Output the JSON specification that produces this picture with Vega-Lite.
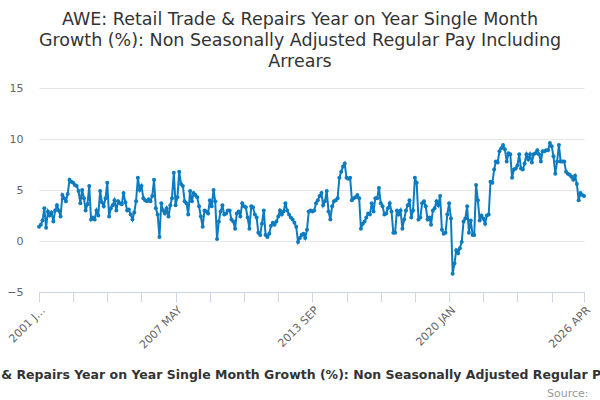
{
"$schema":"https://vega.github.io/schema/vega-lite/v6.json",
"width":545,"height":204,"autosize":"none",
"padding":{"left":39,"top":88,"right":16,"bottom":108},
"background":"white",
"config":{"view":{"stroke":null},"font":"DejaVu Sans"},
"title":{"text":["AWE: Retail Trade & Repairs Year on Year Single Month","Growth (%): Non Seasonally Adjusted Regular Pay Including","Arrears"],"fontSize":17.5,"fontWeight":"normal","color":"#333333","anchor":"middle","frame":"group","dx":-11.5,"offset":12,"lineHeight":21,"font":"DejaVu Sans"},
"data":{"values":[
{"d":"2001-01","v":1.4},{"d":"2001-02","v":1.6},{"d":"2001-03","v":2.0},{"d":"2001-04","v":3.2},{"d":"2001-05","v":1.3},{"d":"2001-06","v":2.9},{"d":"2001-07","v":2.5},{"d":"2001-08","v":2.8},{"d":"2001-09","v":1.9},{"d":"2001-10","v":3.0},{"d":"2001-11","v":3.5},{"d":"2001-12","v":3.0},
{"d":"2002-01","v":2.4},{"d":"2002-02","v":4.5},{"d":"2002-03","v":4.2},{"d":"2002-04","v":3.9},{"d":"2002-05","v":4.6},{"d":"2002-06","v":6.0},{"d":"2002-07","v":5.8},{"d":"2002-08","v":5.7},{"d":"2002-09","v":5.5},{"d":"2002-10","v":5.4},{"d":"2002-11","v":4.9},{"d":"2002-12","v":3.7},
{"d":"2003-01","v":5.0},{"d":"2003-02","v":4.2},{"d":"2003-03","v":3.0},{"d":"2003-04","v":3.6},{"d":"2003-05","v":5.4},{"d":"2003-06","v":2.1},{"d":"2003-07","v":2.3},{"d":"2003-08","v":2.1},{"d":"2003-09","v":3.0},{"d":"2003-10","v":2.5},{"d":"2003-11","v":4.9},{"d":"2003-12","v":3.8},
{"d":"2004-01","v":3.4},{"d":"2004-02","v":4.2},{"d":"2004-03","v":5.7},{"d":"2004-04","v":2.4},{"d":"2004-05","v":3.2},{"d":"2004-06","v":3.5},{"d":"2004-07","v":4.0},{"d":"2004-08","v":3.0},{"d":"2004-09","v":3.9},{"d":"2004-10","v":3.7},{"d":"2004-11","v":3.6},{"d":"2004-12","v":4.7},
{"d":"2005-01","v":3.8},{"d":"2005-02","v":3.0},{"d":"2005-03","v":3.1},{"d":"2005-04","v":2.6},{"d":"2005-05","v":2.1},{"d":"2005-06","v":2.8},{"d":"2005-07","v":3.9},{"d":"2005-08","v":6.2},{"d":"2005-09","v":5.0},{"d":"2005-10","v":5.4},{"d":"2005-11","v":4.2},{"d":"2005-12","v":4.0},
{"d":"2006-01","v":3.9},{"d":"2006-02","v":4.1},{"d":"2006-03","v":3.9},{"d":"2006-04","v":4.4},{"d":"2006-05","v":6.0},{"d":"2006-06","v":3.2},{"d":"2006-07","v":2.6},{"d":"2006-08","v":0.4},{"d":"2006-09","v":3.7},{"d":"2006-10","v":3.0},{"d":"2006-11","v":2.7},{"d":"2006-12","v":3.2},
{"d":"2007-01","v":2.4},{"d":"2007-02","v":3.5},{"d":"2007-03","v":4.2},{"d":"2007-04","v":6.7},{"d":"2007-05","v":3.5},{"d":"2007-06","v":4.3},{"d":"2007-07","v":6.8},{"d":"2007-08","v":5.6},{"d":"2007-09","v":5.4},{"d":"2007-10","v":3.9},{"d":"2007-11","v":3.7},{"d":"2007-12","v":2.6},
{"d":"2008-01","v":4.9},{"d":"2008-02","v":3.9},{"d":"2008-03","v":4.7},{"d":"2008-04","v":4.5},{"d":"2008-05","v":4.3},{"d":"2008-06","v":3.4},{"d":"2008-07","v":2.4},{"d":"2008-08","v":1.4},{"d":"2008-09","v":3.0},{"d":"2008-10","v":2.9},{"d":"2008-11","v":2.7},{"d":"2008-12","v":4.0},
{"d":"2009-01","v":3.4},{"d":"2009-02","v":5.0},{"d":"2009-03","v":3.9},{"d":"2009-04","v":0.2},{"d":"2009-05","v":1.9},{"d":"2009-06","v":2.9},{"d":"2009-07","v":3.5},{"d":"2009-08","v":2.6},{"d":"2009-09","v":2.7},{"d":"2009-10","v":3.0},{"d":"2009-11","v":3.0},{"d":"2009-12","v":2.1},
{"d":"2010-01","v":1.9},{"d":"2010-02","v":1.2},{"d":"2010-03","v":2.7},{"d":"2010-04","v":2.9},{"d":"2010-05","v":2.4},{"d":"2010-06","v":3.7},{"d":"2010-07","v":3.4},{"d":"2010-08","v":3.3},{"d":"2010-09","v":2.3},{"d":"2010-10","v":1.2},{"d":"2010-11","v":3.4},{"d":"2010-12","v":3.3},
{"d":"2011-01","v":2.6},{"d":"2011-02","v":2.3},{"d":"2011-03","v":0.8},{"d":"2011-04","v":0.6},{"d":"2011-05","v":1.7},{"d":"2011-06","v":3.0},{"d":"2011-07","v":0.6},{"d":"2011-08","v":0.4},{"d":"2011-09","v":0.7},{"d":"2011-10","v":1.5},{"d":"2011-11","v":1.8},{"d":"2011-12","v":1.6},
{"d":"2012-01","v":1.9},{"d":"2012-02","v":2.4},{"d":"2012-03","v":3.0},{"d":"2012-04","v":2.6},{"d":"2012-05","v":2.9},{"d":"2012-06","v":3.7},{"d":"2012-07","v":3.0},{"d":"2012-08","v":2.6},{"d":"2012-09","v":2.3},{"d":"2012-10","v":2.1},{"d":"2012-11","v":1.8},{"d":"2012-12","v":1.4},
{"d":"2013-01","v":-0.1},{"d":"2013-02","v":0.3},{"d":"2013-03","v":0.6},{"d":"2013-04","v":0.7},{"d":"2013-05","v":0.3},{"d":"2013-06","v":1.1},{"d":"2013-07","v":2.9},{"d":"2013-08","v":3.0},{"d":"2013-09","v":2.9},{"d":"2013-10","v":3.0},{"d":"2013-11","v":3.7},{"d":"2013-12","v":4.0},
{"d":"2014-01","v":4.4},{"d":"2014-02","v":4.7},{"d":"2014-03","v":3.5},{"d":"2014-04","v":3.9},{"d":"2014-05","v":4.9},{"d":"2014-06","v":2.9},{"d":"2014-07","v":2.1},{"d":"2014-08","v":3.4},{"d":"2014-09","v":3.9},{"d":"2014-10","v":4.0},{"d":"2014-11","v":4.2},{"d":"2014-12","v":6.2},
{"d":"2015-01","v":6.8},{"d":"2015-02","v":7.3},{"d":"2015-03","v":7.6},{"d":"2015-04","v":6.2},{"d":"2015-05","v":6.1},{"d":"2015-06","v":6.2},{"d":"2015-07","v":4.0},{"d":"2015-08","v":4.2},{"d":"2015-09","v":4.3},{"d":"2015-10","v":4.5},{"d":"2015-11","v":4.2},{"d":"2015-12","v":1.2},
{"d":"2016-01","v":1.7},{"d":"2016-02","v":1.9},{"d":"2016-03","v":2.3},{"d":"2016-04","v":2.7},{"d":"2016-05","v":2.6},{"d":"2016-06","v":3.7},{"d":"2016-07","v":2.9},{"d":"2016-08","v":4.2},{"d":"2016-09","v":4.2},{"d":"2016-10","v":5.2},{"d":"2016-11","v":3.7},{"d":"2016-12","v":3.4},
{"d":"2017-01","v":2.6},{"d":"2017-02","v":2.7},{"d":"2017-03","v":3.2},{"d":"2017-04","v":3.7},{"d":"2017-05","v":2.9},{"d":"2017-06","v":0.8},{"d":"2017-07","v":0.8},{"d":"2017-08","v":3.0},{"d":"2017-09","v":2.6},{"d":"2017-10","v":3.0},{"d":"2017-11","v":1.2},{"d":"2017-12","v":2.1},
{"d":"2018-01","v":3.0},{"d":"2018-02","v":3.5},{"d":"2018-03","v":4.0},{"d":"2018-04","v":2.3},{"d":"2018-05","v":3.0},{"d":"2018-06","v":6.2},{"d":"2018-07","v":5.7},{"d":"2018-08","v":2.1},{"d":"2018-09","v":2.3},{"d":"2018-10","v":3.7},{"d":"2018-11","v":3.9},{"d":"2018-12","v":3.4},
{"d":"2019-01","v":2.1},{"d":"2019-02","v":2.3},{"d":"2019-03","v":1.6},{"d":"2019-04","v":3.0},{"d":"2019-05","v":3.2},{"d":"2019-06","v":3.9},{"d":"2019-07","v":3.5},{"d":"2019-08","v":4.4},{"d":"2019-09","v":1.1},{"d":"2019-10","v":0.7},{"d":"2019-11","v":0.8},{"d":"2019-12","v":2.6},
{"d":"2020-01","v":3.7},{"d":"2020-02","v":2.2},{"d":"2020-03","v":-3.2},{"d":"2020-04","v":-2.2},{"d":"2020-05","v":-0.9},{"d":"2020-06","v":-1.2},{"d":"2020-07","v":-0.7},{"d":"2020-08","v":-0.1},{"d":"2020-09","v":1.9},{"d":"2020-10","v":2.2},{"d":"2020-11","v":3.4},{"d":"2020-12","v":0.8},
{"d":"2021-01","v":2.0},{"d":"2021-02","v":0.6},{"d":"2021-03","v":0.6},{"d":"2021-04","v":5.5},{"d":"2021-05","v":4.0},{"d":"2021-06","v":2.0},{"d":"2021-07","v":2.5},{"d":"2021-08","v":2.2},{"d":"2021-09","v":1.7},{"d":"2021-10","v":2.5},{"d":"2021-11","v":2.6},{"d":"2021-12","v":5.8},
{"d":"2022-01","v":5.7},{"d":"2022-02","v":7.0},{"d":"2022-03","v":7.8},{"d":"2022-04","v":7.7},{"d":"2022-05","v":8.8},{"d":"2022-06","v":9.1},{"d":"2022-07","v":9.4},{"d":"2022-08","v":9.0},{"d":"2022-09","v":7.8},{"d":"2022-10","v":8.6},{"d":"2022-11","v":8.5},{"d":"2022-12","v":6.2},
{"d":"2023-01","v":7.0},{"d":"2023-02","v":7.1},{"d":"2023-03","v":7.4},{"d":"2023-04","v":8.5},{"d":"2023-05","v":7.1},{"d":"2023-06","v":7.0},{"d":"2023-07","v":7.6},{"d":"2023-08","v":8.5},{"d":"2023-09","v":8.0},{"d":"2023-10","v":8.5},{"d":"2023-11","v":7.7},{"d":"2023-12","v":8.5},
{"d":"2024-01","v":8.6},{"d":"2024-02","v":8.9},{"d":"2024-03","v":8.5},{"d":"2024-04","v":7.8},{"d":"2024-05","v":8.8},{"d":"2024-06","v":8.8},{"d":"2024-07","v":8.9},{"d":"2024-08","v":8.9},{"d":"2024-09","v":9.6},{"d":"2024-10","v":9.3},{"d":"2024-11","v":8.3},{"d":"2024-12","v":6.6},
{"d":"2025-01","v":7.8},{"d":"2025-02","v":9.4},{"d":"2025-03","v":7.8},{"d":"2025-04","v":7.8},{"d":"2025-05","v":7.8},{"d":"2025-06","v":6.8},{"d":"2025-07","v":6.6},{"d":"2025-08","v":6.5},{"d":"2025-09","v":6.3},{"d":"2025-10","v":6.0},{"d":"2025-11","v":6.4},{"d":"2025-12","v":5.6},
{"d":"2026-01","v":4.0},{"d":"2026-02","v":4.7},{"d":"2026-03","v":4.5},{"d":"2026-04","v":4.4}
]},
"mark":{"type":"line","color":"#0c7bc0","strokeWidth":2,"point":{"filled":true,"size":16,"color":"#0c7bc0"}},
"encoding":{
"x":{"field":"d","type":"temporal",
"scale":{"type":"utc","nice":false,"domain":[{"year":2001,"month":1,"date":1,"utc":true},{"year":2026,"month":4,"date":1,"utc":true}]},
"axis":{"values":[{"year":2001,"month":1,"date":1,"utc":true},{"year":2002,"month":8,"date":1,"utc":true},{"year":2004,"month":3,"date":1,"utc":true},{"year":2005,"month":10,"date":1,"utc":true},{"year":2007,"month":5,"date":1,"utc":true},{"year":2008,"month":12,"date":1,"utc":true},{"year":2010,"month":7,"date":1,"utc":true},{"year":2012,"month":2,"date":1,"utc":true},{"year":2013,"month":9,"date":1,"utc":true},{"year":2015,"month":4,"date":1,"utc":true},{"year":2016,"month":11,"date":1,"utc":true},{"year":2018,"month":6,"date":1,"utc":true},{"year":2020,"month":1,"date":1,"utc":true},{"year":2021,"month":8,"date":1,"utc":true},{"year":2023,"month":3,"date":1,"utc":true},{"year":2024,"month":10,"date":1,"utc":true},{"year":2026,"month":4,"date":1,"utc":true}],
"labelExpr":"utcFormat(datum.value, '%Y-%m') == '2001-01' ? '2001 J…' : (indexof(['2007-05','2013-09','2020-01','2026-04'], utcFormat(datum.value, '%Y-%m')) >= 0 ? upper(utcFormat(datum.value, '%Y %b')) : '')",
"labelAngle":-45,"labelFontSize":11,"labelColor":"#666666","labelOverlap":false,"labelFlush":false,"labelPadding":2,
"tickColor":"#ccd6eb","tickSize":10,"domainColor":"#ccd6eb","grid":false,
"title":"AWE: Retail Trade & Repairs Year on Year Single Month Growth (%): Non Seasonally Adjusted Regular Pay Including Arrears",
"titleFontSize":12.5,"titleFontWeight":"bold","titleColor":"#333333","titleLimit":3000,"titleX":268,"titleY":86,"titleBaseline":"alphabetic"}},
"y":{"field":"v","type":"quantitative","scale":{"domain":[-5,15],"nice":false,"zero":false},
"axis":{"values":[-5,0,5,10,15],"grid":true,"gridColor":"#e6e6e6","domain":false,"ticks":false,"labelPadding":16,"labelColor":"#666666","labelFontSize":11,
"title":"Source:","titleAngle":0,"titleX":549,"titleY":308,"titleAlign":"right","titleBaseline":"alphabetic","titleColor":"#999999","titleFontSize":11,"titleFontWeight":"normal"}}
}
}
